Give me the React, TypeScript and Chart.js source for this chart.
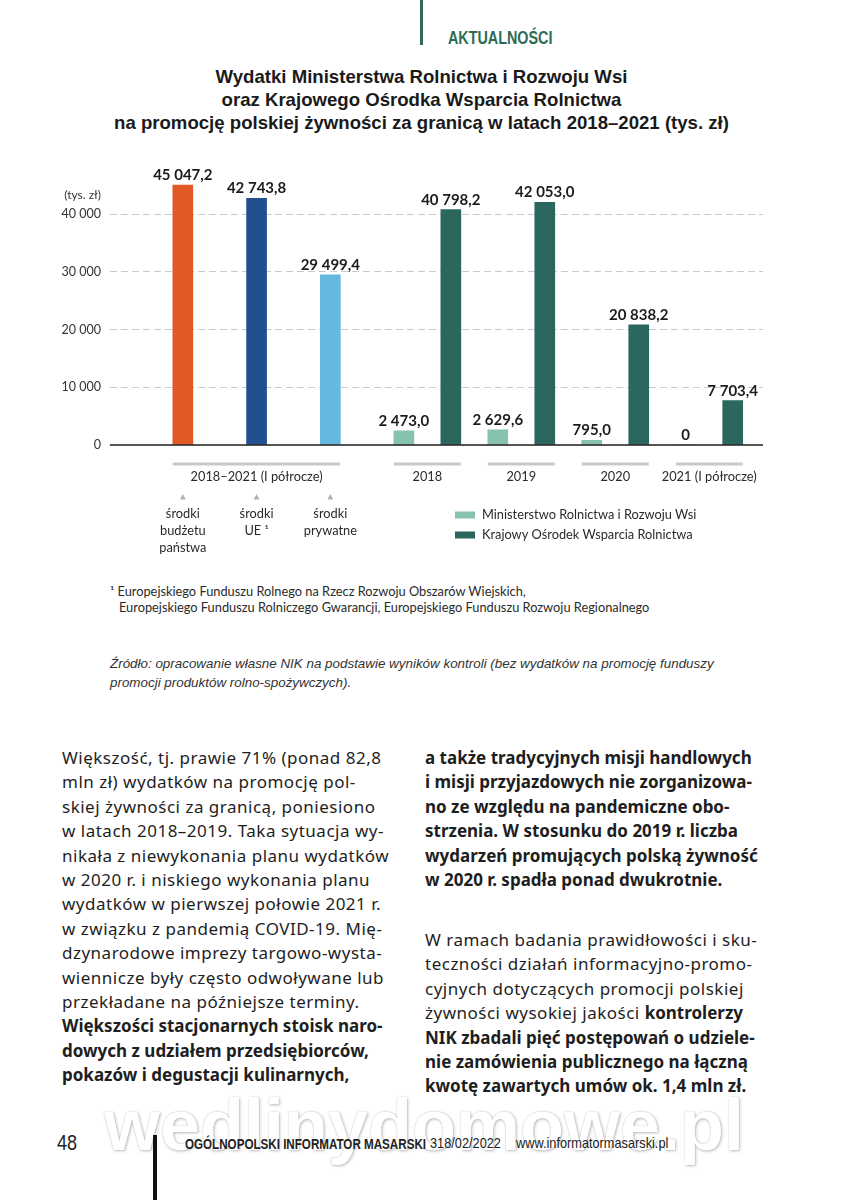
import React, { useEffect, useRef } from 'react';
import { Chart, registerables } from 'chart.js';

Chart.register(...registerables);

// ---------- DATA ----------
const fundGroupLabel = '2018–2021 (I półrocze)';
const fundLabels = [['środki', 'budżetu', 'państwa'], ['środki', 'UE ¹'], ['środki', 'prywatne']];
const fundValues = [45047.2, 42743.8, 29499.4];
const fundColors = ['#E15A26', '#22508F', '#66B9DE'];

const years = ['2018', '2019', '2020', '2021 (I półrocze)'];
const seriesNames = ['Ministerstwo Rolnictwa i Rozwoju Wsi', 'Krajowy Ośrodek Wsparcia Rolnictwa'];
const ministryValues = [2473.0, 2629.6, 795.0, 0];
const kowrValues = [40798.2, 42053.0, 20838.2, 7703.4];
const seriesColors = ['#86C2AC', '#2B665F'];

const yTicks = [0, 10000, 20000, 30000, 40000];
const yUnit = '(tys. zł)';

// ---------- LAYOUT (slot units on the linear x scale) ----------
const X_MIN = 0;
const X_MAX = 13.9;
const fundSlots = [1.55, 3.12, 4.69];
const yearCenters = [6.755, 8.755, 10.755, 12.755];
const pairOffset = 0.5;

const fmtValue = (v: number) => {
  if (v === 0) return '0';
  const [i, d] = v.toFixed(1).split('.');
  return i.replace(/\B(?=(\d{3})+(?!\d))/g, ' ') + ',' + d;
};
const fmtTick = (v: number) => String(v).replace(/\B(?=(\d{3})+(?!\d))/g, ' ');

const FONT = 'Lato, "Open Sans", sans-serif';

const annotPlugin = {
  id: 'annot',
  afterDatasetsDraw(chart: any) {
    const { ctx, chartArea, scales } = chart;
    const y = scales.y;
    const y0 = y.getPixelForValue(0);
    ctx.save();
    // baseline
    ctx.strokeStyle = '#1c1c1c';
    ctx.lineWidth = 1.6;
    ctx.beginPath();
    ctx.moveTo(chartArea.left, y0);
    ctx.lineTo(chartArea.right, y0);
    ctx.stroke();

    // value labels
    ctx.fillStyle = '#1c1c1c';
    ctx.textAlign = 'center';
    ctx.textBaseline = 'alphabetic';
    ctx.font = `700 15px ${FONT}`;
    chart.data.datasets.forEach((ds: any, di: number) => {
      const meta = chart.getDatasetMeta(di);
      meta.data.forEach((bar: any, i: number) => {
        const v = ds.data[i].y;
        ctx.fillText(fmtValue(v), bar.x, bar.y - 5);
      });
    });

    // unit label (right-aligned with the tick labels)
    ctx.font = `12px ${FONT}`;
    ctx.fillStyle = '#333';
    ctx.textAlign = 'right';
    ctx.textBaseline = 'middle';
    ctx.fillText(yUnit, chartArea.left - 9, y.getPixelForValue(yTicks[yTicks.length - 1]) - 19);

    // group lines + labels
    const groupLineY = y0 + 19;
    const groupLabelY = y0 + 32;
    const drawGroup = (x1: number, x2: number, label: string) => {
      ctx.strokeStyle = '#c9c9c9';
      ctx.lineWidth = 3;
      ctx.beginPath();
      ctx.moveTo(x1, groupLineY);
      ctx.lineTo(x2, groupLineY);
      ctx.stroke();
      ctx.fillStyle = '#2a2a2a';
      ctx.font = `12.8px ${FONT}`;
      ctx.textAlign = 'center';
      ctx.textBaseline = 'middle';
      ctx.fillText(label, (x1 + x2) / 2, groupLabelY);
    };
    const fundMeta = chart.getDatasetMeta(0).data;
    drawGroup(fundMeta[0].x - fundMeta[0].width / 2, fundMeta[2].x + fundMeta[2].width / 2, fundGroupLabel);
    const mMeta = chart.getDatasetMeta(1).data;
    const kMeta = chart.getDatasetMeta(2).data;
    years.forEach((yr, i) => {
      drawGroup(mMeta[i].x - mMeta[i].width / 2, kMeta[i].x + kMeta[i].width / 2, yr);
    });

    // triangles + fund labels
    fundMeta.forEach((bar: any, i: number) => {
      const ty = y0 + 52;
      ctx.fillStyle = '#b3b3b3';
      ctx.beginPath();
      ctx.moveTo(bar.x, ty - 3);
      ctx.lineTo(bar.x + 3, ty + 2.5);
      ctx.lineTo(bar.x - 3, ty + 2.5);
      ctx.closePath();
      ctx.fill();
      ctx.fillStyle = '#2a2a2a';
      ctx.font = `12.8px ${FONT}`;
      ctx.textAlign = 'center';
      ctx.textBaseline = 'middle';
      fundLabels[i].forEach((line, li) => {
        ctx.fillText(line, bar.x, y0 + 69 + li * 17);
      });
    });

    // legend
    const lx = 455;
    seriesNames.forEach((name, i) => {
      const ly = y0 + 70 + i * 20;
      ctx.fillStyle = seriesColors[i];
      ctx.fillRect(lx, ly - 3.5, 20, 7);
      ctx.fillStyle = '#2a2a2a';
      ctx.font = `12.8px ${FONT}`;
      ctx.textAlign = 'left';
      ctx.textBaseline = 'middle';
      ctx.fillText(name, lx + 27, ly);
    });
    ctx.restore();
  },
};

function BarChart() {
  const ref = useRef<HTMLCanvasElement>(null);
  useEffect(() => {
    if (!ref.current) return;
    const chart = new Chart(ref.current, {
      type: 'bar',
      data: {
        datasets: [
          {
            label: fundGroupLabel,
            data: fundValues.map((v, i) => ({ x: fundSlots[i], y: v })),
            backgroundColor: fundColors,
          },
          {
            label: seriesNames[0],
            data: ministryValues.map((v, i) => ({ x: yearCenters[i] - pairOffset, y: v })),
            backgroundColor: seriesColors[0],
          },
          {
            label: seriesNames[1],
            data: kowrValues.map((v, i) => ({ x: yearCenters[i] + pairOffset, y: v })),
            backgroundColor: seriesColors[1],
          },
        ] as any,
      },
      options: {
        responsive: false,
        animation: false,
        devicePixelRatio: 1,
        layout: { padding: { top: 16, right: 80, bottom: 135, left: 0 } },
        datasets: { bar: { barThickness: 20, grouped: false } } as any,
        plugins: { legend: { display: false }, tooltip: { enabled: false } },
        scales: {
          x: {
            type: 'linear',
            min: X_MIN,
            max: X_MAX,
            offset: false,
            display: false,
          },
          y: {
            min: 0,
            max: 50000,
            afterBuildTicks: (axis: any) => {
              axis.ticks = yTicks.map((v) => ({ value: v }));
            },
            afterFit: (axis: any) => {
              axis.width = 110;
            },
            ticks: {
              padding: 9,
              color: '#333',
              font: { family: FONT, size: 12.5 },
              callback: (v: any) => fmtTick(Number(v)),
            },
            grid: {
              drawTicks: false,
              color: (c: any) => (c.tick && c.tick.value === 0 ? 'rgba(0,0,0,0)' : '#cacaca'),
              lineWidth: 1,
            },
            border: { display: false, dash: [7, 4] },
          },
        },
      },
      plugins: [annotPlugin],
    } as any);
    return () => chart.destroy();
  }, []);
  return <canvas ref={ref} width={843} height={440} style={{ position: 'absolute', left: 0, top: 140, width: 843, height: 440 }} />;
}

const BODY = '"Noto Sans", "Open Sans", sans-serif';
const lineStyle: React.CSSProperties = { height: 24.4, lineHeight: '24.4px', whiteSpace: 'nowrap' };

type Line = { t: React.ReactNode; b?: boolean };
const leftLines: Line[] = [
  { t: 'Większość, tj. prawie 71% (ponad 82,8' },
  { t: 'mln zł) wydatków na promocję pol-' },
  { t: 'skiej żywności za granicą, poniesiono' },
  { t: 'w latach 2018–2019. Taka sytuacja wy-' },
  { t: 'nikała z niewykonania planu wydatków' },
  { t: 'w 2020 r. i niskiego wykonania planu' },
  { t: 'wydatków w pierwszej połowie 2021 r.' },
  { t: 'w związku z pandemią COVID-19. Mię-' },
  { t: 'dzynarodowe imprezy targowo-wysta-' },
  { t: 'wiennicze były często odwoływane lub' },
  { t: 'przekładane na późniejsze terminy.' },
  { t: 'Większości stacjonarnych stoisk naro-', b: true },
  { t: 'dowych z udziałem przedsiębiorców,', b: true },
  { t: 'pokazów i degustacji kulinarnych,', b: true },
];
const rightLines1: Line[] = [
  { t: 'a także tradycyjnych misji handlowych', b: true },
  { t: 'i misji przyjazdowych nie zorganizowa-', b: true },
  { t: 'no ze względu na pandemiczne obo-', b: true },
  { t: 'strzenia. W stosunku do 2019 r. liczba', b: true },
  { t: 'wydarzeń promujących polską żywność', b: true },
  { t: 'w 2020 r. spadła ponad dwukrotnie.', b: true },
];
const rightLines2: Line[] = [
  { t: 'W ramach badania prawidłowości i sku-' },
  { t: 'teczności działań informacyjno-promo-' },
  { t: 'cyjnych dotyczących promocji polskiej' },
  { t: <>żywności wysokiej jakości <b style={{ letterSpacing: 0 }}>kontrolerzy</b></> },
  { t: 'NIK zbadali pięć postępowań o udziele-', b: true },
  { t: 'nie zamówienia publicznego na łączną', b: true },
  { t: 'kwotę zawartych umów ok. 1,4 mln zł.', b: true },
];

const renderLines = (lines: Line[]) =>
  lines.map((l, i) => (
    <div key={i} style={{ ...lineStyle, fontWeight: l.b ? 700 : 400, letterSpacing: l.b ? 0 : 0.5 }}>
      {l.t}
    </div>
  ));

const SANS = '"Liberation Sans", Arial, sans-serif';

export default function App() {
  return (
    <div style={{ position: 'relative', width: 843, height: 1200, background: '#fff', overflow: 'hidden', color: '#1e1e1e' }}>
      <style>{`body{margin:0;background:#fff}`}</style>
      {/* header */}
      <div style={{ position: 'absolute', left: 420, top: 0, width: 3, height: 45, background: '#2d6b56' }} />
      <div
        style={{
          position: 'absolute', left: 448, top: 28, fontFamily: SANS, fontWeight: 700,
          fontSize: 17.5, lineHeight: '20px', color: '#2d6b56', transform: 'scaleX(0.82)', transformOrigin: 'left center', whiteSpace: 'nowrap',
        }}
      >
        AKTUALNOŚCI
      </div>
      {/* title */}
      <div
        style={{
          position: 'absolute', left: 0, width: 843, top: 65, textAlign: 'center', fontFamily: SANS,
          fontWeight: 700, fontSize: 18.6, lineHeight: '23px', color: '#1a1a1a', whiteSpace: 'nowrap',
        }}
      >
        <div>Wydatki Ministerstwa Rolnictwa i Rozwoju Wsi</div>
        <div>oraz Krajowego Ośrodka Wsparcia Rolnictwa</div>
        <div>na promocję polskiej żywności za granicą w latach 2018–2021 (tys. zł)</div>
      </div>

      <BarChart />

      {/* footnote */}
      <div style={{ position: 'absolute', left: 110, top: 583, fontFamily: FONT, fontSize: 12.8, lineHeight: '16px', color: '#2a2a2a', whiteSpace: 'nowrap' }}>
        <div>¹ Europejskiego Funduszu Rolnego na Rzecz Rozwoju Obszarów Wiejskich,</div>
        <div style={{ paddingLeft: 9 }}>Europejskiego Funduszu Rolniczego Gwarancji, Europejskiego Funduszu Rozwoju Regionalnego</div>
      </div>

      {/* source */}
      <div
        style={{
          position: 'absolute', left: 110, top: 654, fontFamily: SANS, fontStyle: 'italic',
          fontSize: 13.4, lineHeight: '19px', color: '#333', whiteSpace: 'nowrap',
        }}
      >
        <div>Źródło: opracowanie własne NIK na podstawie wyników kontroli (bez wydatków na promocję funduszy</div>
        <div>promocji produktów rolno-spożywczych).</div>
      </div>

      {/* body text */}
      <div style={{ position: 'absolute', left: 62, top: 746, fontFamily: BODY, fontSize: 17, color: '#1e1e1e' }}>
        {renderLines(leftLines)}
      </div>
      <div style={{ position: 'absolute', left: 425, top: 746, fontFamily: BODY, fontSize: 17, color: '#1e1e1e' }}>
        {renderLines(rightLines1)}
        <div style={{ height: 35.6 }} />
        {renderLines(rightLines2)}
      </div>

      {/* watermark */}
      <div
        style={{
          position: 'absolute', left: 104, top: 1084, fontFamily: SANS, fontWeight: 700,
          fontSize: 72, lineHeight: '82px', color: '#ffffff', whiteSpace: 'nowrap',
          textShadow: '0 0 1px rgba(0,0,0,0.3), 1px 1px 3px rgba(0,0,0,0.25)',
        }}
      >
        wedlinydomowe.pl
      </div>

      {/* footer */}
      <div
        style={{
          position: 'absolute', left: 57, top: 1130, fontFamily: SANS, fontSize: 22, lineHeight: '26px',
          color: '#222', transform: 'scaleX(0.82)', transformOrigin: 'left center',
        }}
      >
        48
      </div>
      <div style={{ position: 'absolute', left: 153, top: 1135, width: 4, height: 65, background: '#111' }} />
      <div
        style={{
          position: 'absolute', left: 185, top: 1135, fontFamily: SANS, fontSize: 14, lineHeight: '18px', fontWeight: 700,
          color: '#222', whiteSpace: 'nowrap', transform: 'scaleX(0.83)', transformOrigin: 'left center',
        }}
      >
        OGÓLNOPOLSKI INFORMATOR MASARSKI
      </div>
      <div
        style={{
          position: 'absolute', left: 430, top: 1134, fontFamily: SANS, fontSize: 15, lineHeight: '18px',
          color: '#222', whiteSpace: 'nowrap', transform: 'scaleX(0.85)', transformOrigin: 'left center',
        }}
      >
        318/02/2022
      </div>
      <div
        style={{
          position: 'absolute', left: 516, top: 1134, fontFamily: SANS, fontSize: 15, lineHeight: '18px',
          color: '#222', whiteSpace: 'nowrap', transform: 'scaleX(0.85)', transformOrigin: 'left center',
        }}
      >
        www.informatormasarski.pl
      </div>
    </div>
  );
}
